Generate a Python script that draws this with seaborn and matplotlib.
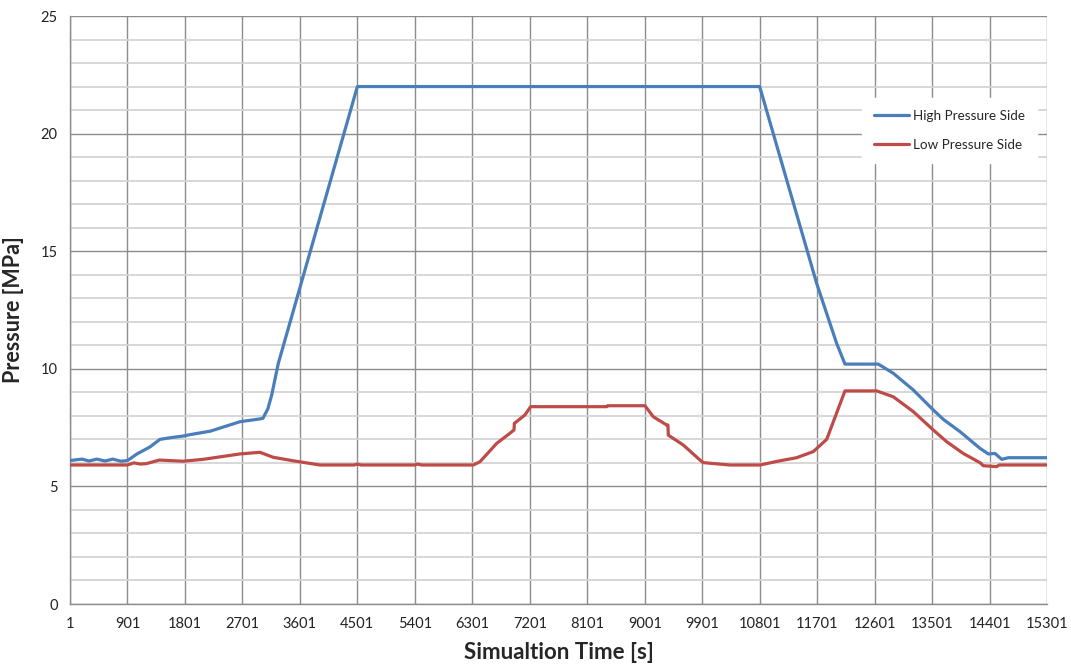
import matplotlib
matplotlib.use("Agg")
import matplotlib.pyplot as plt
from matplotlib.ticker import MultipleLocator, FixedLocator
import seaborn as sns
import pandas as pd

# ---- data ----
high_t = [1, 190, 300, 420, 550, 670, 800, 901, 1050, 1254, 1410, 1600, 1771, 1880,
          2200, 2663, 2976, 3023, 3100, 3160, 3263, 4501, 10801, 11694, 12007,
          12137, 12659, 12894, 13207, 13520, 13677, 13938, 14251, 14382, 14487,
          14592, 14695, 15301]
high_v = [6.1, 6.16, 6.08, 6.16, 6.08, 6.16, 6.07, 6.1, 6.38, 6.68, 7.0, 7.08, 7.14, 7.2,
          7.35, 7.75, 7.87, 7.9, 8.3, 8.89, 10.23, 22.0, 22.0, 13.63, 11.08,
          10.2, 10.2, 9.81, 9.1, 8.25, 7.85, 7.33, 6.62, 6.38, 6.4,
          6.15, 6.22, 6.22]

low_t = [1, 901, 1000, 1100, 1200, 1400, 1771, 2084, 2663, 2976, 3180, 3493, 3916,
         4450, 4500, 4560, 5400, 5440, 5510, 6317, 6422, 6683, 6891, 6954, 6960,
         7126, 7215, 8406, 8420, 9005, 9136, 9345, 9365, 9370, 9605, 9867, 9919,
         10337, 10806, 11120, 11380, 11641, 11851, 12137, 12634, 12894, 13207,
         13520, 13730, 13990, 14251, 14303, 14512, 14550, 15301]
low_v = [5.91, 5.91, 6.0, 5.95, 5.97, 6.12, 6.07, 6.15, 6.38, 6.45, 6.24, 6.09, 5.91,
         5.91, 5.95, 5.91, 5.91, 5.95, 5.91, 5.91, 6.05, 6.83, 7.26, 7.4, 7.68,
         8.04, 8.39, 8.39, 8.43, 8.43, 7.96, 7.61, 7.61, 7.18, 6.76, 6.12, 6.01,
         5.91, 5.91, 6.09, 6.22, 6.48, 7.0, 9.06, 9.06, 8.81, 8.18,
         7.4, 6.9, 6.4, 6.01, 5.88, 5.84, 5.91, 5.91]

series_names = ["High Pressure Side", "Low Pressure Side"]
series_colors = ["#4A7EBB", "#BE4B48"]
x_ticks = list(range(1, 15302, 900))
y_ticks = [0, 5, 10, 15, 20, 25]

df = pd.concat([
    pd.DataFrame({"t": high_t, "p": high_v, "series": series_names[0]}),
    pd.DataFrame({"t": low_t, "p": low_v, "series": series_names[1]}),
], ignore_index=True)

sns.set_style("white")
plt.rcParams["font.family"] = ["Lato", "DejaVu Sans"]

fig = plt.figure(figsize=(10.71, 6.66), dpi=100)
ax = fig.add_axes([70 / 1071, 1 - 604 / 666, 977 / 1071, 588 / 666])

sns.lineplot(data=df, x="t", y="p", hue="series", hue_order=series_names,
             palette=series_colors, linewidth=2.3, estimator=None, sort=False,
             ax=ax, zorder=3)

ax.set_xlim(1, 15301)
ax.set_ylim(0, 25)
ax.xaxis.set_major_locator(FixedLocator(x_ticks))
ax.set_xticklabels([str(v) for v in x_ticks])
ax.yaxis.set_major_locator(FixedLocator(y_ticks))
ax.yaxis.set_minor_locator(MultipleLocator(1))

ax.grid(True, which="major", axis="both", color="#8C8C8C", linewidth=1.0, zorder=1)
ax.grid(True, which="minor", axis="y", color="#D4D4D4", linewidth=1.3, zorder=0)
ax.set_axisbelow(True)

for s in ["top", "right"]:
    ax.spines[s].set_visible(False)
for s in ["left", "bottom"]:
    ax.spines[s].set_color("#8C8C8C")
    ax.spines[s].set_linewidth(1.0)

ax.tick_params(axis="both", which="major", direction="out", length=5, width=1,
               color="#8C8C8C", labelsize=10.5, labelcolor="#222222", pad=4)
ax.tick_params(axis="both", which="minor", length=0)

ax.set_xlabel("Simualtion Time [s]", fontsize=16, fontweight="bold", labelpad=8)
ax.set_ylabel("Pressure [MPa]", fontsize=15.5, fontweight="bold", labelpad=12)

leg = ax.legend(loc="upper right", bbox_to_anchor=(0.997, 0.872), frameon=True,
                fontsize=9.7, handlelength=2.6, handletextpad=0.3,
                labelspacing=1.25, borderpad=0.9)
leg.get_frame().set_facecolor("white")
leg.get_frame().set_edgecolor("white")
leg.get_frame().set_alpha(1.0)
leg.set_title(None)
for line in leg.get_lines():
    line.set_linewidth(2.3)

fig.savefig("out.png", dpi=100)
